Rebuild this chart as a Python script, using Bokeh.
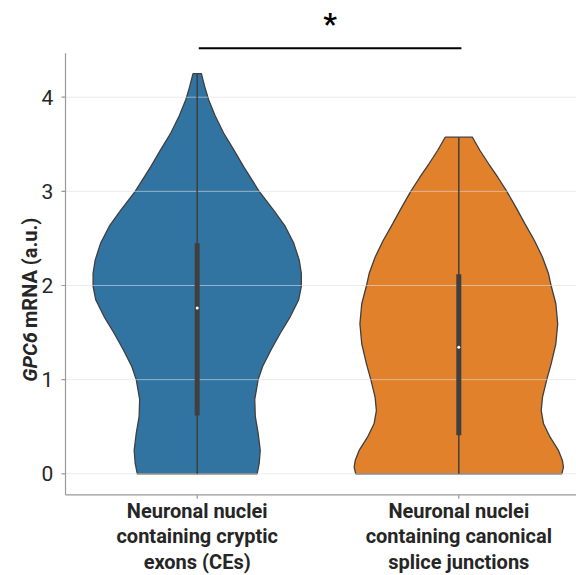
import numpy as np
from bokeh.plotting import figure
from bokeh.models import Range1d
from bokeh.embed import file_html
from bokeh.resources import INLINE
from bokeh.core.properties import value

# ---------------- data ----------------
categories = ["Neuronal nuclei\ncontaining cryptic\nexons (CEs)",
              "Neuronal nuclei\ncontaining canonical\nsplice junctions"]
positions = [0, 1]
colors = ["#3274a1", "#e1812c"]

# violin profiles (y value, half-width in x-axis units)
ce_y = [0.0, 0.11, 0.25, 0.43, 0.61, 0.79, 1.0, 1.14, 1.32, 1.49, 1.67, 1.85, 1.99,
        2.13, 2.27, 2.45, 2.63, 2.8, 3.0, 3.26, 3.44, 3.62, 3.8, 3.97, 4.11, 4.25]
ce_hw = [0.229, 0.237, 0.241, 0.233, 0.222, 0.220, 0.233, 0.250, 0.283, 0.317, 0.356,
         0.388, 0.398, 0.398, 0.390, 0.369, 0.336, 0.292, 0.237, 0.178, 0.140, 0.101,
         0.069, 0.044, 0.029, 0.016]

can_y = [0.0, 0.07, 0.141, 0.248, 0.389, 0.531, 0.672, 0.814, 0.998, 1.168, 1.381, 1.593,
         1.806, 1.997, 2.124, 2.301, 2.478, 2.655, 2.832, 3.002, 3.150, 3.293, 3.434, 3.575]
can_hw = [0.394, 0.400, 0.396, 0.381, 0.349, 0.324, 0.315, 0.320, 0.336, 0.353, 0.371,
          0.378, 0.371, 0.353, 0.343, 0.320, 0.289, 0.253, 0.218, 0.183, 0.149, 0.114,
          0.081, 0.052]

# inner box statistics
whisker_lo = [0.0, 0.0]
whisker_hi = [4.25, 3.575]
q1 = [0.62, 0.41]
q3 = [2.45, 2.12]
median = [1.76, 1.345]

y_ticks = [0, 1, 2, 3, 4]
y_tick_labels = [str(t) for t in y_ticks]
y_label_italic = "GPC6"
y_label_rest = "mRNA (a.u.)"
sig_text = "*"
sig_pair = (0.006, 1.01)
sig_level = 4.52

# ---------------- layout constants ----------------
FONT = "Roboto"
W, H = 576, 575
PX_X = 261.6      # pixels per x unit
PX_Y = 94.15      # pixels per y unit
X0_PX = 196.7     # pixel column of x = 0
Y0_PX = 473.3     # pixel row of y = 0
AXIS_X_PX = 65.0  # left spine
AXIS_Y_PX = 494.3  # bottom spine
SPINE_TOP_PX = 52.7

def dx(px):
    return (px - X0_PX) / PX_X

def dy(py):
    return (Y0_PX - py) / PX_Y

x_lo, x_hi = dx(0), dx(W)
y_lo, y_hi = dy(H), dy(0)
ax_x = dx(AXIS_X_PX)
ax_y = dy(AXIS_Y_PX)
ax_top = dy(SPINE_TOP_PX)

p = figure(width=W, height=H, output_backend="svg", toolbar_location=None,
           x_range=Range1d(x_lo, x_hi), y_range=Range1d(y_lo, y_hi),
           x_axis_location=None, y_axis_location=None,
           min_border=0, min_border_left=0, min_border_right=0,
           min_border_top=0, min_border_bottom=0)
p.outline_line_color = None
p.grid.visible = False

AX_COL = "#9a9a9a"
TXT_COL = "#262626"
EDGE = "#3f3f3f"

# violins
for pos, ys, hws, col in [(positions[0], ce_y, ce_hw, colors[0]),
                          (positions[1], can_y, can_hw, colors[1])]:
    ys = np.array(ys); hws = np.array(hws)
    xs = np.concatenate([pos - hws, (pos + hws)[::-1]])
    yy = np.concatenate([ys, ys[::-1]])
    p.patch(xs, yy, fill_color=col, line_color=EDGE, line_width=1.3)

# horizontal grid lines (drawn over the violins, under the boxes)
p.segment(x0=[ax_x] * len(y_ticks), y0=y_ticks, x1=[x_hi] * len(y_ticks), y1=y_ticks,
          line_color="#dddddd", line_alpha=0.6, line_width=1)

# inner box
p.segment(x0=positions, y0=whisker_lo, x1=positions, y1=whisker_hi,
          line_color=EDGE, line_width=1.5)
p.segment(x0=positions, y0=q1, x1=positions, y1=q3,
          line_color=EDGE, line_width=5)
p.scatter(x=positions, y=median, size=3, fill_color="white", line_color=None)

# spines
p.segment(x0=[ax_x], y0=[ax_y], x1=[ax_x], y1=[ax_top], line_color=AX_COL, line_width=1.2)
p.segment(x0=[ax_x], y0=[ax_y], x1=[x_hi], y1=[ax_y], line_color=AX_COL, line_width=1.2)

# y ticks and labels
tick_len_x = 4 / PX_X
p.segment(x0=[ax_x - tick_len_x] * len(y_ticks), y0=y_ticks,
          x1=[ax_x] * len(y_ticks), y1=y_ticks, line_color=AX_COL, line_width=1.2)
p.text(x=[ax_x - 12.3 / PX_X] * len(y_ticks), y=y_ticks, text=y_tick_labels,
       text_font=value(FONT), text_font_size="21px", text_color=TXT_COL,
       text_align="right", text_baseline="middle")

# x ticks and labels
tick_len_y = 4 / PX_Y
p.segment(x0=positions, y0=[ax_y] * len(positions), x1=positions,
          y1=[ax_y - tick_len_y] * len(positions), line_color=AX_COL, line_width=1.2)
p.text(x=positions, y=[ax_y - 4 / PX_Y] * len(positions), text=categories,
       text_font=value(FONT), text_font_size="20px", text_font_style="bold",
       text_color=TXT_COL, text_align="center", text_baseline="top",
       text_line_height=1.07)

# y-axis title (gene name in italics)
lab_x = dx(29.3)
p.text(x=[lab_x], y=[dy(331.7)], text=[y_label_italic], angle=np.pi / 2,
       text_font=value(FONT), text_font_style="bold italic", text_font_size="20px",
       text_align="right", text_baseline="alphabetic", text_color=TXT_COL)
p.text(x=[lab_x], y=[dy(327.5)], text=[y_label_rest], angle=np.pi / 2,
       text_font=value(FONT), text_font_style="bold", text_font_size="20px",
       text_align="left", text_baseline="alphabetic", text_color=TXT_COL)

# significance bar
p.segment(x0=[sig_pair[0]], y0=[sig_level], x1=[sig_pair[1]], y1=[sig_level],
          line_color="black", line_width=2.2)
p.text(x=[sum(sig_pair) / 2], y=[sig_level + 0.26], text=[sig_text],
       text_font=value(FONT), text_font_style="bold", text_font_size="30px",
       text_align="center", text_baseline="alphabetic", text_color="black")

open("out.html", "w").write(file_html(p, INLINE))
